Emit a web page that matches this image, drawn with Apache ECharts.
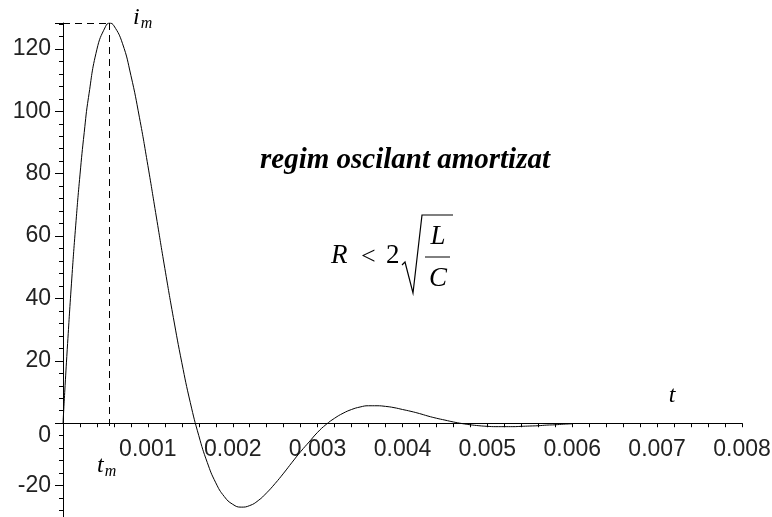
<!DOCTYPE html>
<html>
<head>
<meta charset="utf-8">
<script src="https://cdn.jsdelivr.net/npm/echarts@6/dist/echarts.min.js"></script>
<style>
  html, body { margin: 0; padding: 0; background: #fff; }
  #chart { width: 772px; height: 517px; }
</style>
</head>
<body>
<div id="chart"></div>
<script>
// timp (s) si curent (A)
const timeValues = [
  0, 0.00002, 0.00005, 0.0001, 0.00015, 0.0002, 0.00025, 0.0003, 0.0004, 0.0005,
  0.00055, 0.0006, 0.0007, 0.0008, 0.0009, 0.001, 0.0011, 0.0012, 0.0013, 0.0014,
  0.0015, 0.0016, 0.0017, 0.0018, 0.0019, 0.002, 0.0021, 0.0022, 0.0023, 0.0024,
  0.0025, 0.0026, 0.0027, 0.0028, 0.0029, 0.003, 0.0031, 0.0032, 0.0033, 0.0034,
  0.0035, 0.0036, 0.0037, 0.0038, 0.0039, 0.004, 0.0041, 0.0042, 0.0043, 0.0044,
  0.0045, 0.0046, 0.0047, 0.0048, 0.0049, 0.005, 0.0051, 0.0052, 0.0053, 0.0054,
  0.0055, 0.0056, 0.0057, 0.0058, 0.0059, 0.006
];
const currentValues = [
  0, 9.8, 23.7, 44.9, 63.5, 79.6, 93.2, 104.4, 119.9, 127.1,
  128.3, 127.4, 121.8, 111.5, 98.1, 82.6, 66.1, 49.6, 33.9, 19.4,
  6.6, -4.0, -12.6, -19.1, -23.5, -26.0, -26.9, -26.4, -24.8, -22.3,
  -19.3, -16.0, -12.5, -9.1, -6.0, -2.9, -0.4, 1.6, 3.2, 4.4,
  5.2, 5.6, 5.6, 5.4, 5.0, 4.4, 3.8, 3.1, 2.3, 1.6,
  1.0, 0.4, -0.1, -0.5, -0.8, -1.0, -1.1, -1.1, -1.1, -1.0,
  -0.9, -0.8, -0.6, -0.5, -0.3, -0.2
];
const peakTime = 0.00054; // t_m
const peakCurrent = 128.3; // i_m
const yMin = -40;

const chart = echarts.init(document.getElementById("chart"));

const axisFont = { fontFamily: "Liberation Sans", fontSize: 23, color: "#222" };
const mathFont = "italic 27px 'Liberation Serif'";

// grila coboara sub marginea de jos, axa t se muta pe linia de zero
const gridTop = 23;
const gridBottom = -31;
const plotH = 517 - gridTop - gridBottom;
const zeroOffset = -(-yMin) / (peakCurrent - yMin) * plotH;

const option = {
  animation: false,
  grid: { left: 63, right: 30, top: gridTop, bottom: gridBottom, containLabel: false, outerBoundsMode: "none" },
  xAxis: {
    type: "value",
    position: "bottom",
    offset: zeroOffset,
    min: 0,
    max: 0.008,
    interval: 0.001,
    axisLine: { onZero: false, lineStyle: { color: "#000", width: 1 } },
    axisTick: { show: true, length: 4, lineStyle: { color: "#000" } },
    minorTick: { show: true, splitNumber: 5, length: 4, lineStyle: { color: "#000" } },
    splitLine: { show: false },
    axisLabel: {
      ...axisFont,
      margin: 15,
      formatter: (v) => (v === 0 ? "" : v.toFixed(3)),
    },
  },
  yAxis: {
    type: "value",
    min: yMin,
    max: peakCurrent,
    interval: 20,
    axisLine: { lineStyle: { color: "#000", width: 1 } },
    axisTick: { show: true, length: 8, lineStyle: { color: "#000" } },
    minorTick: { show: true, splitNumber: 5, length: 4, lineStyle: { color: "#000" } },
    splitLine: { show: false },
    axisLabel: {
      ...axisFont,
      margin: 12,
      showMaxLabel: false,
      formatter: (v) => {
        if (v % 20 !== 0) return "";
        return v === 0 ? "{z|0}" : String(v);
      },
      rich: { z: { ...axisFont, padding: [24, 0, 0, 0] } },
    },
  },
  series: [
    {
      type: "line",
      data: timeValues.map((t, k) => [t, currentValues[k]]),
      showSymbol: false,
      smooth: true,
      lineStyle: { color: "#000", width: 1 },
      markLine: {
        silent: true,
        symbol: "none",
        label: { show: false },
        lineStyle: { color: "#000", type: [7, 5], width: 1 },
        data: [
          [{ coord: [0, peakCurrent] }, { coord: [peakTime, peakCurrent] }],
          [{ coord: [peakTime, peakCurrent] }, { coord: [peakTime, -2] }],
        ],
      },
    },
  ],
  graphic: [
    {
      type: "text", x: 405, y: 161,
      style: {
        text: "regim oscilant amortizat",
        font: "bold italic 29px 'Liberation Serif'",
        fill: "#000", align: "center", verticalAlign: "middle",
      },
    },
    {
      type: "text", x: 133, y: 18,
      style: {
        text: "{a|i}{b|m}",
        fill: "#000", verticalAlign: "middle",
        rich: {
          a: { font: "italic 24px 'Liberation Serif'", fill: "#000" },
          b: { font: "italic 16px 'Liberation Serif'", fill: "#000", padding: [12, 0, 0, 1] },
        },
      },
    },
    {
      type: "text", x: 97, y: 466,
      style: {
        text: "{a|t}{b|m}",
        fill: "#000", verticalAlign: "middle",
        rich: {
          a: { font: "italic 24px 'Liberation Serif'", fill: "#000" },
          b: { font: "italic 16px 'Liberation Serif'", fill: "#000", padding: [12, 0, 0, 1] },
        },
      },
    },
    {
      type: "text", x: 672, y: 396,
      style: { text: "t", font: "italic 24px 'Liberation Serif'", fill: "#000", align: "center", verticalAlign: "middle" },
    },
    // R < 2 sqrt(L/C)
    {
      type: "text", x: 331, y: 256,
      style: { text: "R", font: mathFont, fill: "#000", verticalAlign: "middle" },
    },
    {
      type: "text", x: 361, y: 257,
      style: { text: "<", font: "26px 'Liberation Serif'", fill: "#000", verticalAlign: "middle" },
    },
    {
      type: "text", x: 386, y: 256,
      style: { text: "2", font: "27px 'Liberation Serif'", fill: "#000", verticalAlign: "middle" },
    },
    {
      type: "polyline",
      shape: { points: [[402, 265], [405, 262], [413, 293], [422, 215], [453, 215]] },
      style: { stroke: "#000", lineWidth: 1.2, fill: null },
    },
    {
      type: "line",
      shape: { x1: 425, y1: 257, x2: 450, y2: 257 },
      style: { stroke: "#000", lineWidth: 1 },
    },
    {
      type: "text", x: 438, y: 237,
      style: { text: "L", font: mathFont, fill: "#000", align: "center", verticalAlign: "middle" },
    },
    {
      type: "text", x: 438, y: 279,
      style: { text: "C", font: mathFont, fill: "#000", align: "center", verticalAlign: "middle" },
    },
  ],
};

chart.setOption(option);
</script>
</body>
</html>
